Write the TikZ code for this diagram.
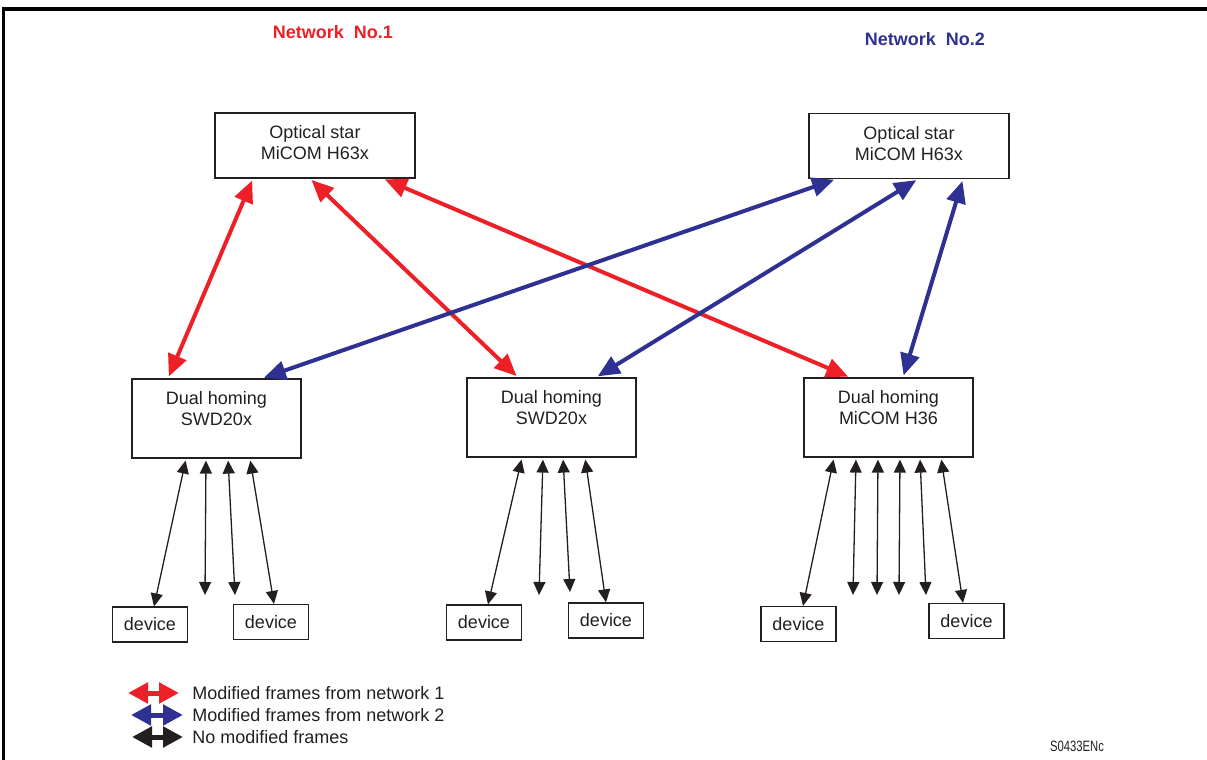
\documentclass[tikz,border=0pt]{standalone}
\usepackage{fontspec}
\setmainfont{Liberation Sans}
\newfontfamily\codefont[FakeStretch=0.75]{Liberation Sans}
\usetikzlibrary{arrows.meta}

\definecolor{netred}{RGB}{237,32,39}
\definecolor{netblue}{RGB}{46,49,146}
\definecolor{ink}{RGB}{35,31,32}

\begin{document}
\begin{tikzpicture}[x=0.5pt, y=-0.5pt,
        font=\fontsize{9pt}{10.5pt}\selectfont, text=ink,
        starbox/.style={draw=ink, line width=0.6pt, align=center, minimum width=100pt, minimum height=32.5pt, text depth=3pt},
        homebox/.style={draw=ink, line width=0.6pt, align=center, minimum width=84.5pt, minimum height=39.5pt, text depth=10pt},
        devbox/.style={draw=ink, line width=0.6pt, minimum width=37.5pt, minimum height=17.5pt},
        net1/.style={netred, line width=2pt, {Triangle[length=11pt,width=9.5pt]}-{Triangle[length=11pt,width=9.5pt]}, shorten >=1pt, shorten <=1pt},
        net2/.style={netblue, line width=2pt, {Triangle[length=11pt,width=9.5pt]}-{Triangle[length=11pt,width=9.5pt]}, shorten >=1pt, shorten <=1pt},
        plain/.style={ink, line width=0.65pt, {Triangle[length=6.5pt,width=6pt]}-{Triangle[length=6.5pt,width=6pt]}, shorten <=1pt},
        legarrow/.style={line width=2.5pt, {Triangle[length=10pt,width=10pt]}-{Triangle[length=10pt,width=10pt]}}]
    \useasboundingbox (0,0) rectangle (1207,760);

    % Frame
    \draw[black, line width=1.75pt] (3.5,760) -- (3.5,9) -- (1207,9);

    % Titles
    \node[font=\bfseries\fontsize{9pt}{10pt}\selectfont, text=netred] (title1) at (333,32) {Network\ \ No.1};
    \node[font=\bfseries\fontsize{9pt}{10pt}\selectfont, text=netblue] (title2) at (925,39) {Network\ \ No.2};

    % Optical stars
    \node[starbox] (t1) at (315,145.5) {Optical star\\MiCOM H63x};
    \node[starbox] (t2) at (909,146) {Optical star\\MiCOM H63x};

    % Dual homing
    \node[homebox] (d1) at (216.5,418.5) {Dual homing\\SWD20x};
    \node[homebox] (d2) at (551.5,417.5) {Dual homing\\SWD20x};
    \node[homebox] (d3) at (888.5,417.5) {Dual homing\\MiCOM H36};

    % Devices
    \node[devbox] (dv1) at (150,624.5) {device};
    \node[devbox] (dv2) at (271,622) {device};
    \node[devbox] (dv3) at (484,622.5) {device};
    \node[devbox] (dv4) at (606,620.5) {device};
    \node[devbox] (dv5) at (798.5,624) {device};
    \node[devbox] (dv6) at (966.5,621) {device};

    % Open ends
    \coordinate (f1) at (205,595);
    \coordinate (f2) at (235,595);
    \coordinate (f3) at (539,595);
    \coordinate (f4) at (570,592);
    \coordinate (f5) at (853,595);
    \coordinate (f6) at (877,595);
    \coordinate (f7) at (899,595);
    \coordinate (f8) at (926,595);

    % Network 1 links
    \draw[net1] (t1.south -| 253,0) -- (d1.north -| 168,0);
    \draw[net1] (t1.south -| 310,0) -- (d2.north -| 518,0);
    \draw[net1] (t1.south -| 383,0) -- (d3.north -| 850,0);

    % Network 2 links
    \draw[net2] (t2.south -| 836,0) -- (d1.north -| 262,0);
    \draw[net2] (t2.south -| 918,0) -- (d2.north -| 596,0);
    \draw[net2] (t2.south -| 963,0) -- (d3.north -| 903,0);

    % Device links
    \draw[plain] (d1.south -| 186,0) -- (dv1.north -| 154,0);
    \draw[plain] (d1.south -| 206,0) -- (f1);
    \draw[plain] (d1.south -| 228,0) -- (f2);
    \draw[plain] (d1.south -| 250,0) -- (dv2.north -| 274,0);

    \draw[plain] (d2.south -| 522,0) -- (dv3.north -| 488,0);
    \draw[plain] (d2.south -| 543,0) -- (f3);
    \draw[plain] (d2.south -| 563,0) -- (f4);
    \draw[plain] (d2.south -| 585,0) -- (dv4.north -| 606,0);

    \draw[plain] (d3.south -| 834,0) -- (dv5.north -| 803,0);
    \draw[plain] (d3.south -| 856,0) -- (f5);
    \draw[plain] (d3.south -| 878,0) -- (f6);
    \draw[plain] (d3.south -| 900,0) -- (f7);
    \draw[plain] (d3.south -| 920,0) -- (f8);
    \draw[plain] (d3.south -| 941,0) -- (dv6.north -| 963,0);

    % Legend
    \node[anchor=west, inner sep=0pt] (lg1) at (192,693) {Modified frames from network 1};
    \node[anchor=west, inner sep=0pt] (lg2) at (192,715) {Modified frames from network 2};
    \node[anchor=west, inner sep=0pt] (lg3) at (192,737) {No modified frames};
    \draw[legarrow, netred] ([xshift=-32pt]lg1.west) -- ([xshift=-6.5pt]lg1.west);
    \draw[legarrow, netblue] ([xshift=-30.5pt]lg2.west) -- ([xshift=-4.5pt]lg2.west);
    \draw[legarrow, ink] ([xshift=-30pt]lg3.west) -- ([xshift=-4.5pt]lg3.west);

    % Drawing code
    \node[font=\codefont\fontsize{7.5pt}{9pt}\selectfont] (code) at (1077,746) {S0433ENc};
\end{tikzpicture}
\end{document}
